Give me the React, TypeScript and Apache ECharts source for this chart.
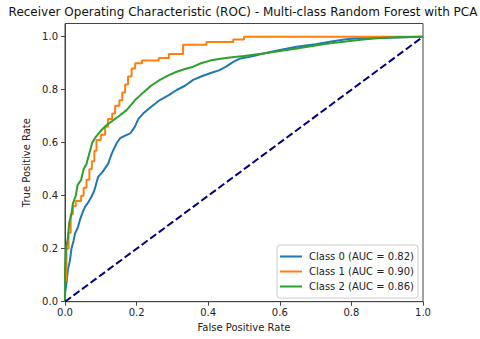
import React, { useEffect, useRef } from "react";
import * as echarts from "echarts";

const titleText = "Receiver Operating Characteristic (ROC) - Multi-class Random Forest with PCA";
const xAxisName = "False Positive Rate";
const yAxisName = "True Positive Rate";
const classNames = ["Class 0 (AUC = 0.82)", "Class 1 (AUC = 0.90)", "Class 2 (AUC = 0.86)"];
const classColors = ["#1f77b4", "#ff7f0e", "#2ca02c"];

const class0Roc: number[][] = [
  [0, 0], [0, 0.03], [0.005, 0.08], [0.008, 0.12], [0.014, 0.157], [0.018, 0.2], [0.024, 0.23],
  [0.028, 0.258], [0.036, 0.28], [0.042, 0.31], [0.05, 0.34], [0.056, 0.358], [0.065, 0.375],
  [0.074, 0.396], [0.082, 0.42], [0.088, 0.45], [0.093, 0.472], [0.105, 0.49], [0.115, 0.51],
  [0.121, 0.522], [0.128, 0.55], [0.135, 0.572], [0.145, 0.6], [0.154, 0.617], [0.165, 0.625],
  [0.182, 0.635], [0.195, 0.66], [0.205, 0.69], [0.219, 0.711], [0.24, 0.735], [0.265, 0.761],
  [0.29, 0.78], [0.312, 0.799], [0.335, 0.815], [0.358, 0.837], [0.38, 0.85], [0.405, 0.862],
  [0.43, 0.873], [0.45, 0.887], [0.47, 0.905], [0.49, 0.918], [0.52, 0.925], [0.554, 0.937],
  [0.6, 0.95], [0.647, 0.962], [0.7, 0.972], [0.74, 0.981], [0.78, 0.99], [0.815, 0.994],
  [0.9, 0.996], [1, 1],
];

const class1Roc: number[][] = [
  [0, 0], [0, 0.08], [0.004, 0.08], [0.004, 0.2], [0.01, 0.2], [0.01, 0.26], [0.016, 0.26],
  [0.016, 0.33], [0.022, 0.33], [0.022, 0.36], [0.03, 0.36], [0.03, 0.38], [0.045, 0.38],
  [0.045, 0.4], [0.052, 0.4], [0.052, 0.43], [0.06, 0.43], [0.06, 0.46], [0.068, 0.46],
  [0.068, 0.5], [0.075, 0.5], [0.075, 0.53], [0.082, 0.53], [0.082, 0.57], [0.088, 0.57],
  [0.088, 0.61], [0.1, 0.61], [0.1, 0.63], [0.112, 0.63], [0.112, 0.66], [0.12, 0.66],
  [0.12, 0.69], [0.132, 0.69], [0.132, 0.71], [0.14, 0.71], [0.14, 0.74], [0.152, 0.74],
  [0.152, 0.76], [0.16, 0.76], [0.16, 0.79], [0.168, 0.79], [0.168, 0.82], [0.176, 0.82],
  [0.176, 0.85], [0.186, 0.85], [0.186, 0.88], [0.196, 0.88], [0.196, 0.9], [0.215, 0.9],
  [0.215, 0.91], [0.262, 0.91], [0.262, 0.92], [0.29, 0.92], [0.29, 0.935], [0.33, 0.935],
  [0.33, 0.97], [0.395, 0.97], [0.395, 0.98], [0.47, 0.98], [0.47, 0.99], [0.5, 0.99],
  [0.5, 1.0], [1, 1],
];

const class2Roc: number[][] = [
  [0, 0], [0, 0.12], [0.003, 0.2], [0.008, 0.24], [0.012, 0.3], [0.018, 0.33], [0.022, 0.37],
  [0.03, 0.4], [0.035, 0.44], [0.045, 0.46], [0.052, 0.5], [0.06, 0.52], [0.068, 0.56],
  [0.076, 0.6], [0.085, 0.62], [0.1, 0.645], [0.115, 0.665], [0.13, 0.68], [0.15, 0.7],
  [0.172, 0.723], [0.195, 0.76], [0.219, 0.79], [0.24, 0.815], [0.265, 0.837], [0.29, 0.855],
  [0.312, 0.868], [0.335, 0.878], [0.358, 0.887], [0.38, 0.9], [0.405, 0.91], [0.43, 0.916],
  [0.46, 0.922], [0.5, 0.927], [0.554, 0.937], [0.6, 0.946], [0.647, 0.956], [0.7, 0.967],
  [0.74, 0.975], [0.79, 0.983], [0.833, 0.99], [0.88, 0.995], [0.927, 0.998], [1, 1],
];

const chanceLine: number[][] = [[0, 0], [1, 1]];

const FONT = "DejaVu Sans";

export default function App() {
  const ref = useRef<HTMLDivElement>(null);
  useEffect(() => {
    if (!ref.current) return;
    const chart = echarts.init(ref.current, undefined, { renderer: "svg" });
    const rocs = [class0Roc, class1Roc, class2Roc];
    const fmt = (v: number) =>
      Math.abs(v * 5 - Math.round(v * 5)) < 1e-6 ? v.toFixed(1) : "";
    chart.setOption({
      animation: false,
      backgroundColor: "#fff",
      title: {
        text: titleText,
        left: 243,
        textAlign: "center",
        top: 6,
        padding: 0,
        textStyle: { fontFamily: FONT, fontSize: 12, fontWeight: "normal", color: "#111" },
      },
      grid: {
        left: 65,
        right: 57,
        top: 23.5,
        bottom: 37.3,
        show: true,
        borderColor: "#444",
        borderWidth: 1,
        backgroundColor: "transparent",
      },
      legend: {
        orient: "vertical",
        right: 62,
        bottom: 41,
        data: classNames,
        icon: "rect",
        itemWidth: 22,
        itemHeight: 2,
        itemGap: 4,
        padding: [6, 4, 6, 3],
        borderColor: "#ccc",
        borderWidth: 1,
        borderRadius: 3,
        backgroundColor: "rgba(255,255,255,0.85)",
        textStyle: { fontFamily: FONT, fontSize: 10, color: "#222", lineHeight: 11, padding: [0, 0, 0, 2] },
      },
      xAxis: {
        type: "value",
        min: 0,
        max: 1,
        interval: 0.2,
        name: xAxisName,
        nameLocation: "middle",
        nameGap: 20,
        nameTextStyle: { fontFamily: FONT, fontSize: 10, color: "#222" },
        axisLine: { show: true, onZero: false, lineStyle: { color: "#444", width: 1 } },
        axisTick: { show: true, length: 4, inside: false, lineStyle: { color: "#444" } },
        axisLabel: { fontFamily: FONT, fontSize: 10, color: "#222", margin: 6, formatter: fmt },
        splitLine: { show: false },
      },
      yAxis: {
        type: "value",
        min: 0,
        max: 1.05,
        interval: 0.2,
        name: yAxisName,
        nameLocation: "middle",
        nameGap: 23,
        nameTextStyle: { fontFamily: FONT, fontSize: 10, color: "#222" },
        axisLine: { show: true, onZero: false, lineStyle: { color: "#444", width: 1 } },
        axisTick: { show: true, length: 4, inside: false, lineStyle: { color: "#444" } },
        axisLabel: { fontFamily: FONT, fontSize: 10, color: "#222", margin: 7, formatter: fmt, showMaxLabel: false },
        splitLine: { show: false },
      },
      series: [
        ...rocs.map((d, i) => ({
          type: "line",
          name: classNames[i],
          data: d,
          showSymbol: false,
          symbol: "none",
          silent: true,
          color: classColors[i],
          lineStyle: { color: classColors[i], width: 2 },
          z: 2 + i,
        })),
        {
          type: "line",
          name: "chance",
          data: chanceLine,
          showSymbol: false,
          symbol: "none",
          silent: true,
          color: "#000080",
          lineStyle: { color: "#000080", width: 2, type: [7.4, 3.2] },
          z: 6,
        },
      ],
    });
    return () => chart.dispose();
  }, []);
  return (
    <div
      ref={ref}
      style={{ position: "fixed", left: 0, top: 0, width: 480, height: 339, background: "#fff" }}
    />
  );
}
